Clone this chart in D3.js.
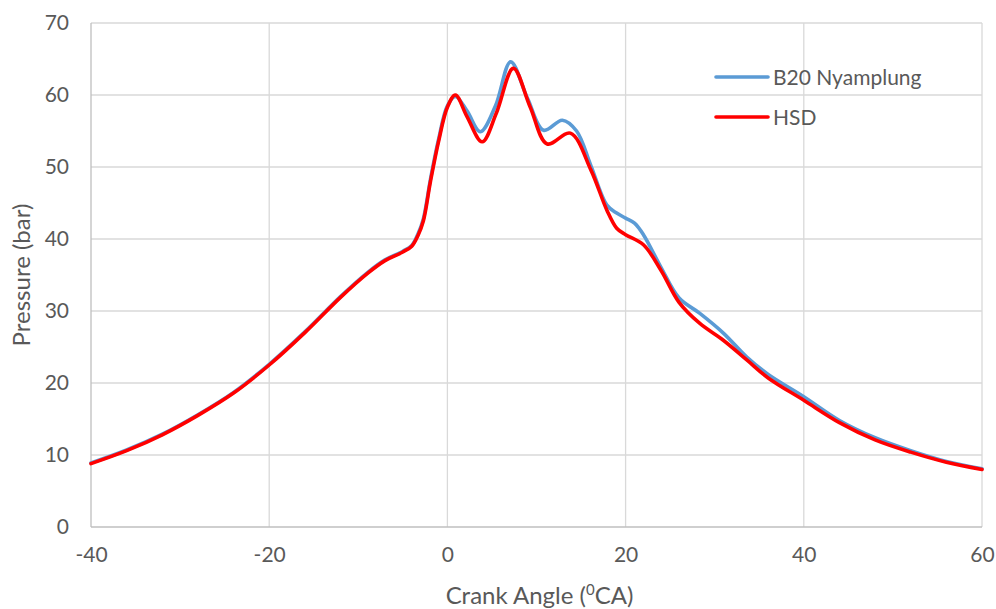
<!DOCTYPE html>
<html>
<head>
<meta charset="utf-8">
<script src="https://cdn.jsdelivr.net/npm/d3@7"></script>
<style>
  html, body { margin: 0; padding: 0; background: #fff; }
  svg text { font-family: Lato, "Open Sans", sans-serif; fill: #595959; }
</style>
</head>
<body>
<svg id="chart" width="996" height="609"></svg>
<script>
// Crank angle (deg) and cylinder pressure (bar) for each fuel
const hsdAngle = [-40, -36, -32, -28, -24, -20, -16, -12, -9, -7, -5, -4, -3.3, -2.7, -1.9, -1, 0, 0.9, 2.2, 3.9, 5.5, 7.4, 9.3, 11.2, 13.8, 16.1, 17.9, 19, 20, 22, 24, 26, 28.3, 31, 33.6, 36, 40, 44, 48, 52, 56, 60];
const hsdPressure = [8.8, 10.6, 12.8, 15.5, 18.6, 22.5, 27.0, 31.9, 35.2, 37.0, 38.2, 39.0, 40.5, 42.5, 48.0, 53.5, 58.3, 60.0, 57.0, 53.5, 57.5, 63.7, 58.3, 53.2, 54.7, 49.6, 44.0, 41.5, 40.6, 39.2, 35.6, 31.2, 28.3, 25.9, 23.2, 20.7, 17.6, 14.5, 12.1, 10.4, 9.0, 8.0];

const b20Angle = [-40, -36, -32, -28, -24, -20, -16, -12, -9, -7, -5, -4, -3.3, -2.7, -1.9, -1, 0, 0.9, 2.2, 3.7, 5.4, 7.1, 9.0, 10.8, 12.9, 14.5, 16.1, 17.9, 19, 20, 21, 22, 24, 26, 28.3, 31, 33.6, 36, 40, 44, 48, 52, 56, 60];
const b20Pressure = [8.9, 10.7, 12.9, 15.6, 18.7, 22.6, 27.1, 32.0, 35.3, 37.1, 38.3, 39.1, 40.7, 42.8, 48.3, 53.8, 58.5, 59.8, 57.8, 54.9, 58.5, 64.6, 59.5, 55.1, 56.5, 55.0, 50.2, 44.7, 43.6, 42.9, 42.2, 40.6, 36.0, 31.8, 29.7, 26.9, 23.6, 21.2, 18.1, 14.8, 12.4, 10.6, 9.1, 8.1];

const xTicks = [-40, -20, 0, 20, 40, 60];
const yTicks = [0, 10, 20, 30, 40, 50, 60, 70];

const seriesNames = ["B20 Nyamplung", "HSD"];
const seriesColors = ["#5b9bd5", "#ff0000"];

const svg = d3.select("#chart");
const margin = { left: 91, right: 14, top: 23, bottom: 82 };
const W = 996, H = 609;
const tickFont = 21;
const titleFont = 24;

const x = d3.scaleLinear().domain([-40, 60]).range([margin.left, W - margin.right]);
const y = d3.scaleLinear().domain([0, 70]).range([H - margin.bottom, margin.top]);

// gridlines
svg.append("g")
  .selectAll("line")
  .data(yTicks.filter(d => d > 0))
  .join("line")
  .attr("x1", x(-40)).attr("x2", x(60))
  .attr("y1", d => y(d)).attr("y2", d => y(d))
  .attr("stroke", "#d9d9d9").attr("stroke-width", 1.3);

svg.append("g")
  .selectAll("line")
  .data(xTicks.filter(d => d > -40))
  .join("line")
  .attr("x1", d => x(d)).attr("x2", d => x(d))
  .attr("y1", y(0)).attr("y2", y(70))
  .attr("stroke", "#d9d9d9").attr("stroke-width", 1.3);

// axis lines
svg.append("line")
  .attr("x1", x(-40)).attr("x2", x(60)).attr("y1", y(0)).attr("y2", y(0))
  .attr("stroke", "#bfbfbf").attr("stroke-width", 1.3);
svg.append("line")
  .attr("x1", x(-40)).attr("x2", x(-40)).attr("y1", y(0)).attr("y2", y(70))
  .attr("stroke", "#bfbfbf").attr("stroke-width", 1.3);

// tick labels via d3 axes (plain hyphen for negatives)
const xAxis = svg.append("g")
  .attr("transform", `translate(0,${y(0)})`)
  .call(d3.axisBottom(x).tickValues(xTicks).tickFormat(d => String(d)).tickSize(0).tickPadding(20));
xAxis.select(".domain").remove();
xAxis.selectAll("text").attr("font-size", tickFont).style("font-family", "Lato, 'Open Sans', sans-serif").attr("fill", "#595959");

const yAxis = svg.append("g")
  .attr("transform", `translate(${x(-40)},0)`)
  .call(d3.axisLeft(y).tickValues(yTicks).tickFormat(d => String(d)).tickSize(0).tickPadding(22));
yAxis.select(".domain").remove();
yAxis.selectAll("text").attr("font-size", tickFont).style("font-family", "Lato, 'Open Sans', sans-serif").attr("fill", "#595959");

// series lines
const line = d3.line().curve(d3.curveCatmullRom.alpha(0.5));
const series = [
  { name: seriesNames[0], color: seriesColors[0], pts: b20Angle.map((a, i) => [x(a), y(b20Pressure[i])]) },
  { name: seriesNames[1], color: seriesColors[1], pts: hsdAngle.map((a, i) => [x(a), y(hsdPressure[i])]) }
];

svg.append("g")
  .selectAll("path")
  .data(series)
  .join("path")
  .attr("d", d => line(d.pts))
  .attr("fill", "none")
  .attr("stroke", d => d.color)
  .attr("stroke-width", 3.6)
  .attr("stroke-linejoin", "round")
  .attr("stroke-linecap", "round");

// legend
const legend = svg.append("g").attr("transform", "translate(716,77)");
const items = legend.selectAll("g").data(series).join("g")
  .attr("transform", (d, i) => `translate(0,${i * 40})`);
items.append("line")
  .attr("x1", 0).attr("x2", 52).attr("y1", 0).attr("y2", 0)
  .attr("stroke", d => d.color).attr("stroke-width", 3.6).attr("stroke-linecap", "round");
items.append("text")
  .attr("x", 57).attr("y", 0).attr("dy", "0.36em")
  .attr("font-size", tickFont)
  .text(d => d.name);

// axis titles
const xt = svg.append("text")
  .attr("x", (x(-40) + x(60)) / 2 + 3).attr("y", 604)
  .attr("text-anchor", "middle").attr("font-size", titleFont);
xt.append("tspan").text("Crank Angle (");
xt.append("tspan").attr("font-size", 15).attr("dy", -9).text("0");
xt.append("tspan").attr("dy", 9).text("CA)");

svg.append("text")
  .attr("transform", `translate(30,${(y(0) + y(70)) / 2}) rotate(-90)`)
  .attr("text-anchor", "middle").attr("font-size", titleFont)
  .text("Pressure (bar)");
</script>
</body>
</html>
